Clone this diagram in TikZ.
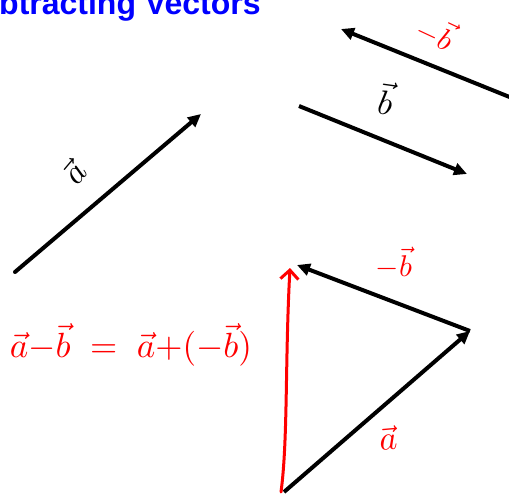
\documentclass[tikz,border=0pt]{standalone}
\usepackage{fontspec}
\newfontfamily\titlefont{Liberation Sans}
\usetikzlibrary{arrows.meta}
\definecolor{titleblue}{RGB}{0,0,255}
\definecolor{inkred}{RGB}{255,0,0}
\newcommand\bigmath[2]{\scalebox{#1}{$#2$}}
\tikzset{
  vecblack/.style={line width=4pt, black, -{Triangle[length=13pt,width=12pt]}},
  vecred/.style={line width=3pt, inkred, line cap=round, -{Straight Barb[length=9pt,width=18pt,line width=3pt]}},
  lbl/.style={inner sep=0pt},
}
\begin{document}
\begin{tikzpicture}[x=1pt,y=-1pt]
\useasboundingbox (0,0) rectangle (509,496);
\begin{scope}
\clip (0,0) rectangle (509,496);
% title
\node[anchor=base west, inner sep=0pt, text=titleblue, font=\titlefont\bfseries\fontsize{32}{36}\selectfont] (title) at (-1,14) {btracting Vectors};
% vector a (left)
\coordinate (a1) at (15,272);
\coordinate (a2) at (201,114);
\draw[vecblack, line cap=round] (a1) -- (a2);
\node[lbl, rotate=50] (la) at (74,172) {\bigmath{3.4}{\vec{a}}};
% vector b
\coordinate (b1) at (299,106);
\coordinate (b2) at (467,174);
\draw[vecblack] (b1) -- (b2);
\node[lbl, rotate=-8] (lb) at (386,98) {\bigmath{3.4}{\vec{b}}};
% vector -b (top)
\coordinate (c1) at (512,98);
\coordinate (c2) at (341,29);
\draw[vecblack] (c1) -- (c2);
\node[lbl, rotate=-25, text=inkred] (lc) at (436,32) {\bigmath{3}{\mathord{-}\vec{b}}};
% equation
\node[inner sep=0pt, text=inkred] (eq) at (131,345) {\bigmath{3.5}{\vec{a}\mathord{-}\vec{b}\;=\;\vec{a}\mathord{+}(\mathord{-}\vec{b})}};
% triangle
\coordinate (t0) at (284,492);
\coordinate (t1) at (470,331);
\coordinate (t2) at (297,265);
\draw[vecblack] (t0) -- (t1);
\draw[vecblack] (t1) -- (t2);
\coordinate (r0) at (281,492);
\coordinate (r1) at (290,268);
\draw[vecred] (r0) .. controls (288,440) and (285,360) .. (r1);
\node[lbl, text=inkred] (ltb) at (394,263) {\bigmath{3}{\mathord{-}\vec{b}}};
\node[lbl, text=inkred, rotate=5] (lta) at (388,438) {\bigmath{3.4}{\vec{a}}};
\end{scope}
\end{tikzpicture}
\end{document}
